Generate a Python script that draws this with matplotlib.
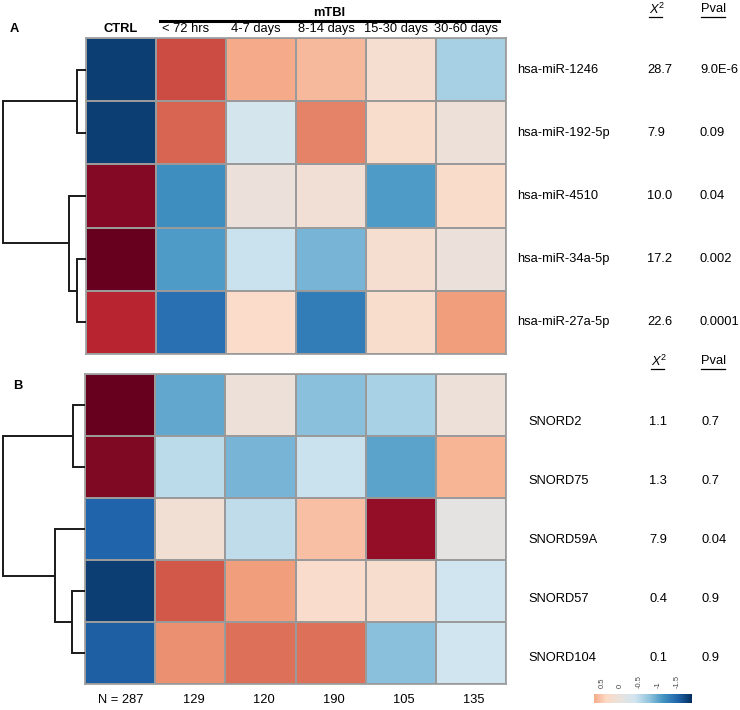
import numpy as np
import matplotlib
matplotlib.use("Agg")
import matplotlib.pyplot as plt
from matplotlib.colors import LinearSegmentedColormap, Normalize
from matplotlib.lines import Line2D

plt.rcParams['font.family'] = ['Liberation Sans', 'DejaVu Sans']
plt.rcParams['mathtext.fontset'] = 'custom'
plt.rcParams['mathtext.it'] = 'Liberation Sans:italic'
plt.rcParams['mathtext.rm'] = 'Liberation Sans'

# 数据
groups = ["CTRL", "< 72 hrs", "4-7 days", "8-14 days", "15-30 days", "30-60 days"]
n_labels = ["N = 287", "129", "120", "190", "105", "135"]

mirna = ["hsa-miR-1246", "hsa-miR-192-5p", "hsa-miR-4510", "hsa-miR-34a-5p", "hsa-miR-27a-5p"]
mirna_chi = ["28.7", "7.9", "10.0", "17.2", "22.6"]
mirna_p = ["9.0E-6", "0.09", "0.04", "0.002", "0.0001"]
mirna_z = [
    [-1.81, 1.24, 0.72, 0.61, 0.23, -0.63],
    [-1.81, 1.10, -0.34, 0.95, 0.29, 0.10],
    [1.75, -1.18, 0.06, 0.15, -1.08, 0.32],
    [1.90, -1.08, -0.42, -0.89, 0.23, 0.06],
    [1.45, -1.43, 0.34, -1.33, 0.29, 0.80],
]
# 聚类：(左, 右, 高度)，叶子 0..4，新节点从 5 开始
mirna_link = [(0, 1, 0.11), (3, 4, 0.11), (2, 6, 0.20), (5, 7, 1.0)]

snord = ["SNORD2", "SNORD75", "SNORD59A", "SNORD57", "SNORD104"]
snord_chi = ["1.1", "1.3", "7.9", "0.4", "0.1"]
snord_p = ["0.7", "0.7", "0.04", "0.9", "0.9"]
snord_z = [
    [1.90, -0.99, 0.10, -0.80, -0.61, 0.10],
    [1.77, -0.51, -0.89, -0.42, -1.01, 0.65],
    [-1.52, 0.17, -0.48, 0.57, 1.67, -0.06],
    [-1.81, 1.18, 0.80, 0.30, 0.27, -0.38],
    [-1.56, 0.87, 1.05, 1.05, -0.80, -0.38],
]
snord_link = [(0, 1, 0.145), (3, 4, 0.16), (2, 6, 0.36), (5, 7, 1.0)]

cbar_ticks = [0.5, 0, -0.5, -1, -1.5]
cbar_labels = ["0.5", "0", "-0.5", "-1", "-1.5"]

W, H = 740, 710
FS = 9.3
fig = plt.figure(figsize=(W / 100, H / 100), dpi=100)


def fx(x):
    return x / W


def fy(y):
    return 1 - y / H


def box(x0, y0, x1, y1):
    return [fx(x0), fy(y1), fx(x1) - fx(x0), fy(y0) - fy(y1)]


cols = ['#053061', '#2166ac', '#4393c3', '#92c5de', '#d1e5f0', '#e8e2de',
        '#fddbc7', '#f4a582', '#d6604d', '#b2182b', '#67001f']
cmap = LinearSegmentedColormap.from_list('rdbu', cols)
norm = Normalize(vmin=-1.9, vmax=1.9)


def heatmap(z, x0, y0, x1, y1):
    ax = fig.add_axes(box(x0, y0, x1, y1))
    z = np.array(z)
    ax.pcolormesh(z, cmap=cmap, norm=norm, edgecolors='#9a9a9a', linewidth=1.1)
    ax.set_xlim(0, z.shape[1])
    ax.set_ylim(z.shape[0], 0)
    ax.set_xticks([])
    ax.set_yticks([])
    for s in ax.spines.values():
        s.set_color('#9a9a9a')
        s.set_linewidth(1.2)
    return ax


def dendro(link, n, x0, y0, x1, y1):
    ax = fig.add_axes(box(x0, y0, x1, y1))
    pos = {i: (0.0, i + 0.5) for i in range(n)}
    for k, (a, b, h) in enumerate(link):
        ha, ya = pos[a]
        hb, yb = pos[b]
        ax.plot([ha, h, h, hb], [ya, ya, yb, yb], color='#1a1a1a', lw=1.4,
                solid_joinstyle='miter', solid_capstyle='butt')
        pos[n + k] = (h, (ya + yb) / 2)
    ax.set_xlim(1.0 * 1.012, 0)
    ax.set_ylim(n, 0)
    ax.axis('off')


def underline(x0, x1, y):
    fig.add_artist(Line2D([fx(x0), fx(x1)], [fy(y), fy(y)], color='black', lw=0.9))


# ---- 面板 A ----
heatmap(mirna_z, 86, 38, 506, 354)
dendro(mirna_link, 5, 2, 38, 86, 354)
fig.text(fx(10), fy(29), "A", fontsize=FS, fontweight='bold', ha='left', va='center')
fig.text(fx(121), fy(29), groups[0], fontsize=FS, fontweight='bold', ha='center', va='center')
for i, g in enumerate(groups[1:]):
    fig.text(fx(191 + 70 * i - 5), fy(29), g, fontsize=FS, ha='center', va='center')
fig.add_artist(Line2D([fx(160), fx(499)], [fy(21), fy(21)], color='black', lw=2.2))
fig.text(fx(329), fy(13), "mTBI", fontsize=FS, fontweight='bold', ha='center', va='center')

row_h = (354 - 38) / 5
for i in range(5):
    yc = 38 + row_h * (i + 0.5)
    fig.text(fx(517), fy(yc), mirna[i], fontsize=FS, ha='left', va='center')
    fig.text(fx(647), fy(yc), mirna_chi[i], fontsize=FS, ha='left', va='center')
    fig.text(fx(700), fy(yc), mirna_p[i], fontsize=FS, ha='left', va='center')
fig.text(fx(649), fy(9), r'$\mathit{X}^2$', fontsize=FS, ha='left', va='center')
underline(649, 662, 17)
fig.text(fx(701), fy(9), "Pval", fontsize=FS, ha='left', va='center')
underline(701, 725, 17)

# ---- 面板 B ----
heatmap(snord_z, 85, 374, 506, 684)
dendro(snord_link, 5, 2, 374, 85, 684)
fig.text(fx(13), fy(386), "B", fontsize=FS, fontweight='bold', ha='left', va='center')
for i in range(5):
    yc = 422 + 59 * i
    fig.text(fx(528), fy(yc), snord[i], fontsize=FS, ha='left', va='center')
    fig.text(fx(649), fy(yc), snord_chi[i], fontsize=FS, ha='left', va='center')
    fig.text(fx(701), fy(yc), snord_p[i], fontsize=FS, ha='left', va='center')
fig.text(fx(651), fy(361), r'$\mathit{X}^2$', fontsize=FS, ha='left', va='center')
underline(651, 664, 369)
fig.text(fx(701), fy(361), "Pval", fontsize=FS, ha='left', va='center')
underline(701, 725, 369)

for i, n in enumerate(n_labels):
    fig.text(fx(121 + 70 * i + (3 if i else 0)), fy(700), n, fontsize=FS, ha='center', va='center')

# ---- 色条 ----
cax = fig.add_axes(box(594, 694, 692, 703))
grad = np.linspace(0.71, -1.9, 256)[None, :]
cax.imshow(grad, aspect='auto', cmap=cmap, norm=norm, extent=[0.71, -1.9, 0, 1])
cax.set_xlim(0.71, -1.9)
cax.set_yticks([])
cax.xaxis.tick_top()
cax.set_xticks(cbar_ticks)
cax.set_xticklabels(cbar_labels, rotation=90, fontsize=5.5, color='#444444')
cax.tick_params(axis='x', length=0, pad=4)
for s in cax.spines.values():
    s.set_visible(False)

fig.savefig("out.png", dpi=100)
